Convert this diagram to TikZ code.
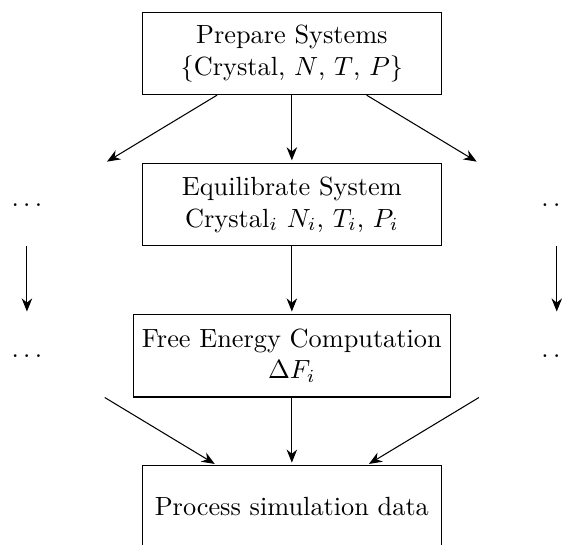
\documentclass[tikz,border=0pt]{standalone}
\usepackage{tikz}
\usetikzlibrary{arrows.meta}
\tikzset{block/.style={black,draw=black,rectangle,align=center,minimum width=4cm,minimum height=1.1cm}}
\tikzset{more/.style={black,rectangle,minimum height=1.1cm}}
\tikzset{link/.style={-{Stealth[length=5pt,width=4pt]},shorten >=1pt}}

\begin{document}
\begin{tikzpicture}
    \useasboundingbox (-3.90,0.715) rectangle (3.65,-6.56);

    \node[block] (prep) at (0,0)
    {Prepare Systems\\\{Crystal, $N$, $T$, $P$\}};

    \node[block] (equil) at (0,-2.02)
    {Equilibrate System\\Crystal$_i$ $N_i$, $T_i$, $P_i$};

    \node[block] (free) at (0,-4.04)
    {Free Energy Computation\\$\Delta F_i$};

    \node[block] (proc) at (0,-6.06) {Process simulation data};

    \node[more] (left1) at (-3.54,-2.02) {$\ldots$};
    \node[more] (left2) at (-3.54,-4.04) {$\ldots$};
    \node[more] (right1) at (3.54,-2.02) {$\ldots$};
    \node[more] (right2) at (3.54,-4.04) {$\ldots$};


    \draw[link] (prep) -- (equil);
    \draw[link] ([xshift=-1cm]prep.south) -- ([xshift=-2.5cm]equil.north);
    \draw[link] ([xshift=1cm]prep.south) -- ([xshift=2.5cm]equil.north);
    \draw[link] (equil) -- (free);
    \draw[link] (left1) -- (left2);
    \draw[link] (right1) -- (right2);
    \draw[link] (free) -- (proc);
    \draw[link] ([xshift=-2.5cm]free.south) -- ([xshift=-1cm]proc.north);
    \draw[link] ([xshift=2.5cm]free.south) -- ([xshift=1cm]proc.north);
  \end{tikzpicture}
\end{document}
